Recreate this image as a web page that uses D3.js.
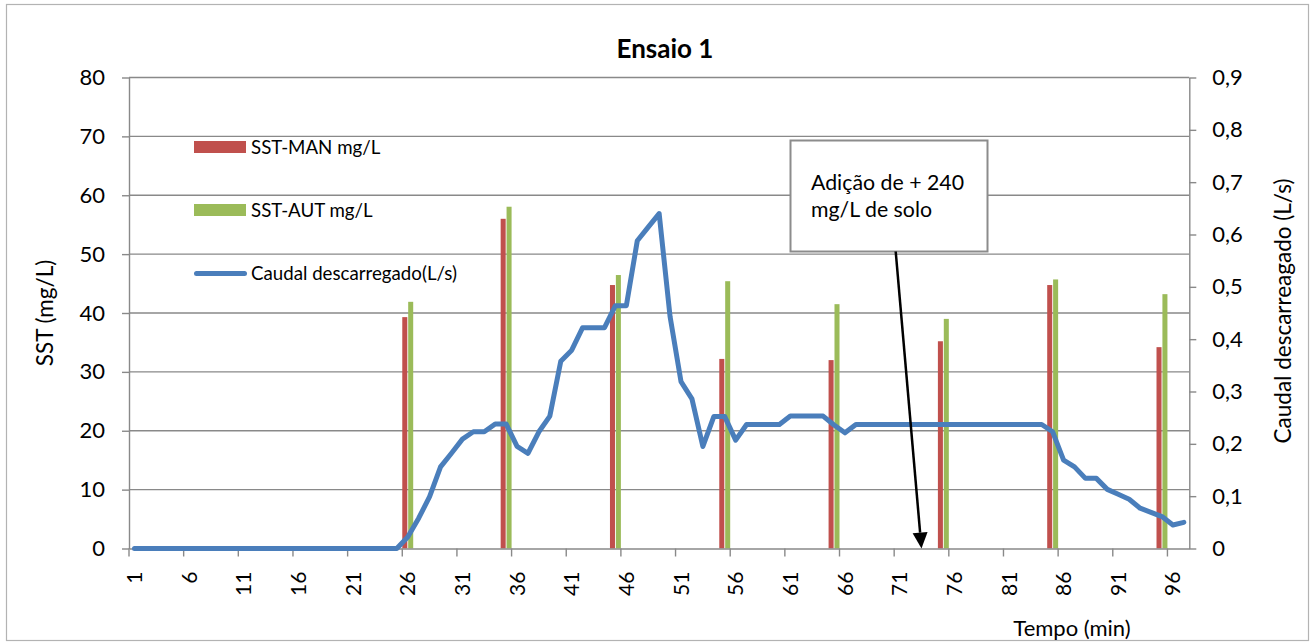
<!DOCTYPE html>
<html>
<head>
<meta charset="utf-8">
<script src="https://cdn.jsdelivr.net/npm/d3@7"></script>
<style>
  body { margin: 0; background: #fff; }
  svg { display: block; }
  text { font-family: Lato, "Open Sans", sans-serif; fill: #000; }
</style>
</head>
<body>
<svg id="chart" width="1315" height="644"></svg>
<script>
// Time axis (minutes) and sampling instants
const minutes = d3.range(1, 98);
const sampleMinutes = [26, 35, 45, 55, 65, 75, 85, 95];

// Suspended solids (mg/L): manual and automatic measurements
const sstMan = [39.3, 56.0, 44.75, 32.2, 32.0, 35.2, 44.75, 34.2];
const sstAut = [41.9, 58.05, 46.45, 45.4, 41.5, 39.0, 45.7, 43.2];

// Discharged flow (L/s), one value per minute 1..97
const flow = [
  0, 0, 0, 0, 0, 0, 0, 0, 0, 0,
  0, 0, 0, 0, 0, 0, 0, 0, 0, 0,
  0, 0, 0, 0, 0, 0.022, 0.058, 0.099, 0.156, 0.182,
  0.209, 0.223, 0.223, 0.238, 0.238, 0.195, 0.182, 0.223, 0.253, 0.358,
  0.379, 0.422, 0.422, 0.422, 0.464, 0.464, 0.588, 0.614, 0.640, 0.443,
  0.319, 0.286, 0.195, 0.252, 0.252, 0.207, 0.237, 0.237, 0.237, 0.237,
  0.253, 0.253, 0.253, 0.253, 0.236, 0.221, 0.237, 0.237, 0.237, 0.237,
  0.237, 0.237, 0.237, 0.237, 0.237, 0.237, 0.237, 0.237, 0.237, 0.237,
  0.237, 0.237, 0.237, 0.237, 0.223, 0.169, 0.156, 0.134, 0.134, 0.113,
  0.1035, 0.094, 0.077, 0.069, 0.061, 0.045, 0.050
];

// Tick values and labels
const sstTicks = [0, 10, 20, 30, 40, 50, 60, 70, 80];
const flowTicks = [0, 0.1, 0.2, 0.3, 0.4, 0.5, 0.6, 0.7, 0.8, 0.9];
const minuteTicks = [1, 6, 11, 16, 21, 26, 31, 36, 41, 46, 51, 56, 61, 66, 71, 76, 81, 86, 91, 96];
const seriesNames = ["SST-MAN mg/L", "SST-AUT mg/L", "Caudal descarregado(L/s)"];
const titleText = "Ensaio 1";
const yLeftTitle = "SST (mg/L)";
const yRightTitle = "Caudal descarreagado (L/s)";
const xTitle = "Tempo (min)";
const noteLines = ["Adição de + 240", "mg/L de solo"];
const noteMinute = 73;

const colors = { man: "#C0504D", aut: "#9BBB59", flow: "#4A7EBB", grid: "#898989" };

const svg = d3.select("#chart");
const W = 1315, H = 644;
const plot = { left: 129, right: 1189.3, top: 77.5, bottom: 548.5 };

// chart frame
svg.append("rect")
  .attr("x", 6.5).attr("y", 4.5).attr("width", W - 13).attr("height", H - 8)
  .attr("fill", "#fff").attr("stroke", "#b3b3b3").attr("stroke-width", 1.2);

const x = d3.scaleBand().domain(minutes).range([plot.left, plot.right]).padding(0);
const bw = x.bandwidth();
const xSub = d3.scaleBand().domain(["man", "aut"]).range([0, bw]).paddingInner(0.15).paddingOuter(0);
const ySst = d3.scaleLinear().domain([0, 80]).range([plot.bottom, plot.top]);
const yFlow = d3.scaleLinear().domain([0, 0.9]).range([plot.bottom, plot.top]);

const comma = d3.formatLocale({ decimal: ",", thousands: ".", grouping: [3], currency: ["", " €"] });
const fmtFlow = comma.format(".1~f");

// horizontal gridlines
svg.append("g").selectAll("line")
  .data(sstTicks.filter(d => d > 0))
  .join("line")
  .attr("x1", plot.left).attr("x2", plot.right)
  .attr("y1", d => ySst(d)).attr("y2", d => ySst(d))
  .attr("stroke", colors.grid).attr("stroke-width", 1.4);

// columns
const samples = sampleMinutes.map((m, i) => ({ m, man: sstMan[i], aut: sstAut[i] }));
const barG = svg.append("g");
["man", "aut"].forEach(key => {
  barG.append("g").selectAll("rect")
    .data(samples)
    .join("rect")
    .attr("x", d => x(d.m) + xSub(key))
    .attr("width", xSub.bandwidth())
    .attr("y", d => ySst(d[key]))
    .attr("height", d => ySst(0) - ySst(d[key]))
    .attr("fill", colors[key]);
});

// axes
const axisStyle = g => {
  g.selectAll(".domain").attr("stroke", colors.grid).attr("stroke-width", 1.4);
  g.selectAll(".tick line").attr("stroke", colors.grid).attr("stroke-width", 1.4);
  g.selectAll("text").attr("font-size", 22).attr("fill", "#000");
};

svg.append("g")
  .attr("transform", `translate(${plot.left},0)`)
  .call(d3.axisLeft(ySst).tickValues(sstTicks).tickSize(7).tickSizeOuter(0).tickPadding(17).tickFormat(d3.format("d")))
  .call(axisStyle);

svg.append("g")
  .attr("transform", `translate(${plot.right},0)`)
  .call(d3.axisRight(yFlow).tickValues(flowTicks).tickSize(7).tickSizeOuter(0).tickPadding(16).tickFormat(fmtFlow))
  .call(axisStyle);

const xAxisG = svg.append("g")
  .attr("transform", `translate(0,${plot.bottom})`)
  .call(d3.axisBottom(x).tickValues(minuteTicks).tickSize(8).tickSizeOuter(0))
  .call(axisStyle);
// tick marks sit between categories, labels on the category
xAxisG.selectAll(".tick line").attr("x1", -bw / 2).attr("x2", -bw / 2);
xAxisG.selectAll(".tick text")
  .attr("transform", "rotate(-90)")
  .attr("x", -23).attr("y", 0).attr("dy", "0.36em")
  .attr("text-anchor", "end")
  .attr("font-size", 21);

// flow line
const flowData = minutes.map((m, i) => ({ m, v: flow[i] }));
svg.append("path")
  .datum(flowData)
  .attr("fill", "none")
  .attr("stroke", colors.flow)
  .attr("stroke-width", 5)
  .attr("stroke-linejoin", "round")
  .attr("stroke-linecap", "round")
  .attr("d", d3.line().x(d => x(d.m) + bw / 2).y(d => yFlow(d.v)));

// title and axis titles
svg.append("text").attr("x", 665).attr("y", 58).attr("text-anchor", "middle")
  .attr("font-size", 26).attr("font-weight", "bold").text(titleText);

svg.append("text").attr("transform", "translate(45,313) rotate(-90)")
  .attr("text-anchor", "middle").attr("dy", "0.35em").attr("font-size", 22.5).text(yLeftTitle);

svg.append("text").attr("transform", "translate(1283,311) rotate(-90)")
  .attr("text-anchor", "middle").attr("dy", "0.35em").attr("font-size", 22.5).text(yRightTitle);

svg.append("text").attr("x", 1072).attr("y", 636).attr("text-anchor", "middle")
  .attr("font-size", 22).text(xTitle);

// legend
const legend = svg.append("g").attr("transform", "translate(194,0)");
const legendRows = [
  { name: seriesNames[0], y: 147, type: "bar", color: colors.man },
  { name: seriesNames[1], y: 210, type: "bar", color: colors.aut },
  { name: seriesNames[2], y: 273.5, type: "line", color: colors.flow }
];
legendRows.forEach(r => {
  if (r.type === "bar") {
    legend.append("rect").attr("x", 0).attr("y", r.y - 6).attr("width", 52).attr("height", 12).attr("fill", r.color);
  } else {
    legend.append("line").attr("x1", 2.5).attr("x2", 50.5).attr("y1", r.y).attr("y2", r.y)
      .attr("stroke", r.color).attr("stroke-width", 5).attr("stroke-linecap", "round");
  }
  legend.append("text").attr("x", 57).attr("y", r.y).attr("dy", "0.36em")
    .attr("font-size", 18.7).text(r.name);
});

// annotation box with arrow
const box = { x: 790.5, y: 140.5, w: 197, h: 111 };
svg.append("rect").attr("x", box.x).attr("y", box.y).attr("width", box.w).attr("height", box.h)
  .attr("fill", "#fff").attr("stroke", "#8c8c8c").attr("stroke-width", 2);
noteLines.forEach((t, i) => {
  svg.append("text").attr("x", 811).attr("y", 190 + i * 27).attr("font-size", 21.3).text(t);
});

const ax0 = 895.7, ay0 = box.y + box.h;
const ax1 = x(noteMinute) + bw / 2, ay1 = yFlow(0);
const ang = Math.atan2(ay1 - ay0, ax1 - ax0);
const headLen = 16, headHalf = 7.5;
const bx = ax1 - headLen * Math.cos(ang), by = ay1 - headLen * Math.sin(ang);
svg.append("line").attr("x1", ax0).attr("y1", ay0).attr("x2", bx).attr("y2", by)
  .attr("stroke", "#000").attr("stroke-width", 2.5);
svg.append("path")
  .attr("d", `M${ax1},${ay1} L${bx + headHalf * Math.sin(ang)},${by - headHalf * Math.cos(ang)} L${bx - headHalf * Math.sin(ang)},${by + headHalf * Math.cos(ang)} Z`)
  .attr("fill", "#000");
</script>
</body>
</html>
